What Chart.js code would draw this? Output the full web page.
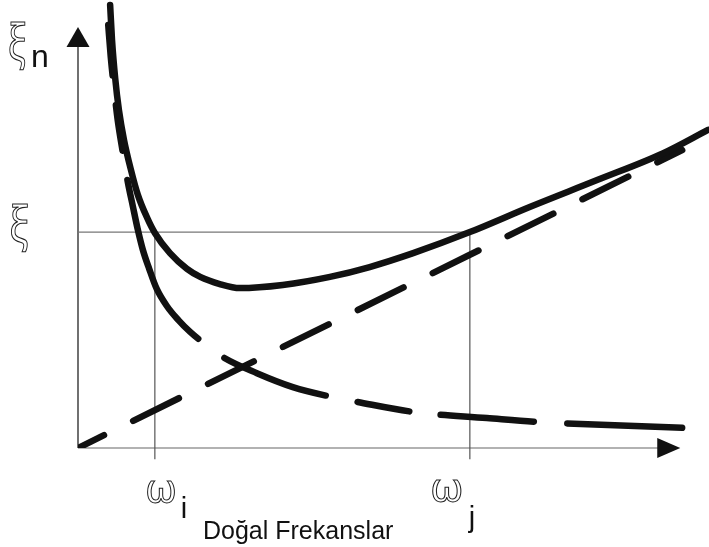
<!DOCTYPE html>
<html>
<head>
<meta charset="utf-8">
<script src="https://cdn.jsdelivr.net/npm/chart.js@4"></script>
<style>
  html, body { margin: 0; padding: 0; background: #fff; }
  #wrap { width: 709px; height: 547px; }
</style>
</head>
<body>
<div id="wrap"><canvas id="damping-canvas"></canvas></div>
<script>
// total damping ratio (solid curve)
var totalX = [0.51, 0.54, 0.59, 0.65, 0.73, 0.84, 0.95, 1.10, 1.22, 1.46, 1.73, 1.94, 2.25, 2.57, 3.25, 4.00, 4.63, 5.32, 6.22, 7.17, 8.24, 9.29, 10.0];
var totalY = [9.89, 9.11, 8.26, 7.54, 6.88, 6.21, 5.65, 5.13, 4.80, 4.35, 4.00, 3.82, 3.66, 3.57, 3.64, 3.82, 4.04, 4.35, 4.82, 5.38, 5.98, 6.58, 7.10];

// mass proportional part (falling dashed curve)
var massX = [0.48, 0.52, 0.57, 0.63, 0.71, 0.79, 0.87, 0.95, 1.03, 1.13, 1.25, 1.41, 1.59, 1.78, 1.97, 2.30, 2.84, 3.41, 4.03, 4.43, 5.35, 6.49, 7.33, 9.59];
var massY = [9.44, 8.73, 8.04, 7.32, 6.61, 5.94, 5.40, 4.87, 4.42, 4.00, 3.55, 3.17, 2.86, 2.59, 2.37, 2.03, 1.67, 1.36, 1.14, 1.03, 0.80, 0.67, 0.58, 0.45];

// stiffness proportional part (straight dashed line)
var stiffX = [0, 9.59];
var stiffY = [0, 6.65];

// the two chosen frequencies and the target ratio
var omegaI = 1.22;
var omegaJ = 6.22;
var xiTarget = 4.82;

// axis ends (arrow tips)
var xAxisEnd = 9.56;
var yAxisEnd = 9.40;

function pts(xs, ys) {
    return xs.map(function (v, i) { return { x: v, y: ys[i] }; });
}

var ink = '#111';

// outlined greek letter, stretched a little
function hollow(ctx, ch, cx, cy, sx, sy) {
    ctx.save();
    ctx.translate(cx, cy);
    ctx.scale(sx, sy);
    ctx.strokeText(ch, 0, 0);
    ctx.restore();
}

var sketch = {
    id: 'sketch',
    beforeDatasetsDraw: function (chart) {
        var ctx = chart.ctx, x = chart.scales.x, y = chart.scales.y;
        var x0 = x.getPixelForValue(0), y0 = y.getPixelForValue(0);
        var xt = x.getPixelForValue(xAxisEnd), yt = y.getPixelForValue(yAxisEnd);
        ctx.save();
        // x axis
        ctx.strokeStyle = '#666';
        ctx.lineWidth = 1.2;
        ctx.beginPath();
        ctx.moveTo(x0, y0);
        ctx.lineTo(xt - 20, y0);
        ctx.stroke();
        // y axis
        ctx.strokeStyle = ink;
        ctx.beginPath();
        ctx.moveTo(x0, y0);
        ctx.lineTo(x0, yt + 18);
        ctx.stroke();
        // arrow heads
        ctx.fillStyle = ink;
        ctx.beginPath();
        ctx.moveTo(xt, y0);
        ctx.lineTo(xt - 23, y0 - 10);
        ctx.lineTo(xt - 23, y0 + 10);
        ctx.closePath();
        ctx.fill();
        ctx.beginPath();
        ctx.moveTo(x0, yt);
        ctx.lineTo(x0 - 11.5, yt + 20);
        ctx.lineTo(x0 + 11.5, yt + 20);
        ctx.closePath();
        ctx.fill();
        ctx.restore();
    },
    afterDraw: function (chart) {
        var ctx = chart.ctx, x = chart.scales.x, y = chart.scales.y;
        var xi = x.getPixelForValue(omegaI), xj = x.getPixelForValue(omegaJ);
        var yx = y.getPixelForValue(xiTarget);
        ctx.save();
        ctx.textBaseline = 'middle';
        ctx.textAlign = 'center';
        ctx.strokeStyle = '#222';
        ctx.lineWidth = 1;
        ctx.font = '44px "Noto Sans"';
        hollow(ctx, 'ξ', 17, 46, 0.85, 1.1);
        hollow(ctx, 'ξ', 19, yx - 4, 0.9, 1.1);
        ctx.font = '40px "Noto Sans"';
        hollow(ctx, 'ω', xi + 6, 492, 1, 1);
        hollow(ctx, 'ω', xj - 23, 491, 1.05, 1);
        // latin subscripts and caption
        ctx.fillStyle = ink;
        ctx.textAlign = 'left';
        ctx.textBaseline = 'alphabetic';
        ctx.font = '32px "Liberation Sans"';
        ctx.fillText('n', 31, 67);
        ctx.font = '29px "Liberation Sans"';
        ctx.fillText('i', xi + 26, 518);
        ctx.fillText('j', xj - 1, 527);
        ctx.font = '25px "Liberation Sans"';
        ctx.fillText('Doğal Frekanslar', 203, 539);
        ctx.restore();
    }
};

new Chart('damping-canvas', {
    type: 'line',
    data: {
        datasets: [{
            // guide at the target ratio
            data: [{ x: 0, y: xiTarget }, { x: omegaJ, y: xiTarget }],
            borderColor: '#777',
            borderWidth: 1.2,
            pointRadius: 0,
            order: 5
        }, {
            data: [{ x: omegaI, y: xiTarget }, { x: omegaI, y: -0.25 }],
            borderColor: '#555',
            borderWidth: 1.2,
            pointRadius: 0,
            clip: false,
            order: 5
        }, {
            data: [{ x: omegaJ, y: xiTarget }, { x: omegaJ, y: -0.25 }],
            borderColor: '#555',
            borderWidth: 1.2,
            pointRadius: 0,
            clip: false,
            order: 5
        }, {
            data: pts(stiffX, stiffY),
            borderColor: ink,
            borderWidth: 6.5,
            borderCapStyle: 'round',
            borderDash: [51, 32.5],
            borderDashOffset: 22,
            pointRadius: 0,
            order: 3
        }, {
            data: pts(massX, massY),
            borderColor: ink,
            borderWidth: 6.5,
            borderCapStyle: 'round',
            borderDash: [50.5, 30, 46, 29.5, 178.5, 32.5, 108.5, 32.5, 52.5, 31.5, 93.5, 33.5, 200],
            cubicInterpolationMode: 'monotone',
            pointRadius: 0,
            order: 2
        }, {
            data: pts(totalX, totalY),
            borderColor: ink,
            borderWidth: 6.5,
            borderCapStyle: 'round',
            cubicInterpolationMode: 'monotone',
            pointRadius: 0,
            clip: false,
            order: 1
        }]
    },
    options: {
        responsive: true,
        maintainAspectRatio: false,
        animation: false,
        devicePixelRatio: 1,
        layout: { padding: { left: 78, right: 1, top: 0, bottom: 99 } },
        scales: {
            x: { type: 'linear', min: 0, max: 10, display: false },
            y: { type: 'linear', min: 0, max: 10, display: false }
        },
        plugins: {
            legend: { display: false },
            tooltip: { enabled: false }
        }
    },
    plugins: [sketch]
});
</script>
</body>
</html>
